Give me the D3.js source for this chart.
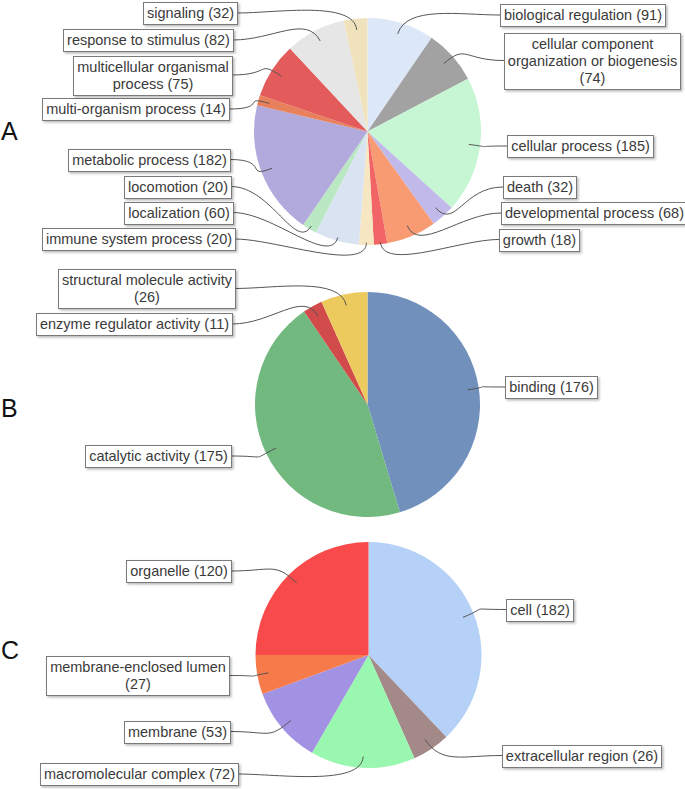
<!DOCTYPE html>
<html><head><meta charset="utf-8">
<script src="https://cdn.jsdelivr.net/npm/d3@7"></script>
<style>body{margin:0;background:#fff}svg{display:block}</style>
</head><body>
<script>
// ---------- DATA ----------
const catsA = ["biological regulation","cellular component organization or biogenesis","cellular process","death","developmental process","growth","immune system process","localization","locomotion","metabolic process","multi-organism process","multicellular organismal process","response to stimulus","signaling"];
const valsA = [91,74,185,32,68,18,20,60,20,182,14,75,82,32];
const catsB = ["binding","catalytic activity","enzyme regulator activity","structural molecule activity"];
const valsB = [176,175,11,26];
const catsC = ["cell","extracellular region","macromolecular complex","membrane","membrane-enclosed lumen","organelle"];
const valsC = [182,26,72,53,27,120];
const panelLetters = ["A","B","C"];

// ---------- STYLES ----------
const colorsA = ["#dce7f7","#a2a2a2","#c6f6d3","#c2b9eb","#f89b73","#f26566","#f6e6c2","#d9e3f1","#b9e8c2","#b2aadd","#e8815b","#e45b5b","#e6e6e6","#f0e2bd"];
const colorsB = ["#7190bc","#72b97f","#d24b4b","#ecca5e"];
const colorsC = ["#b5d1f7","#a38a88","#9af7b0","#a292e3","#f77a4a","#f84a4a"];

// ---------- LAYOUT (label anchors) ----------
const layoutA = [
  {side:"R", x:500, y:15},
  {side:"R", x:504, y:60.5, wrap:180},
  {side:"R", x:507, y:146},
  {side:"R", x:503, y:187},
  {side:"R", x:501, y:213},
  {side:"R", x:499, y:239.5, f:0.98},
  {side:"L", x:235, y:239, f:0.98},
  {side:"L", x:233, y:212.5, f:0.97},
  {side:"L", x:231, y:186.5, f:0.97},
  {side:"L", x:230, y:159.5},
  {side:"L", x:229, y:109},
  {side:"L", x:232, y:75, wrap:166},
  {side:"L", x:233, y:40},
  {side:"L", x:237, y:13}
];
const layoutB = [
  {side:"R", x:505, y:387},
  {side:"L", x:231, y:456},
  {side:"L", x:232, y:324},
  {side:"L", x:235, y:288.5, wrap:184}
];
const layoutC = [
  {side:"R", x:506, y:609.5},
  {side:"R", x:502, y:755.5},
  {side:"L", x:238, y:774},
  {side:"L", x:230, y:731.5},
  {side:"L", x:229, y:675.5, wrap:188},
  {side:"L", x:231, y:571}
];

const panels = [
  {cats:catsA, vals:valsA, colors:colorsA, layout:layoutA, cx:367.5, cy:131.5, r:113.5, letterY:139.5},
  {cats:catsB, vals:valsB, colors:colorsB, layout:layoutB, cx:367.5, cy:404.5, r:112.5, letterY:417},
  {cats:catsC, vals:valsC, colors:colorsC, layout:layoutC, cx:368.5, cy:655, r:113, letterY:658.5}
];

const W = 685, H = 789;
const FONT = "'Liberation Sans', Arial, Helvetica, sans-serif";
const FS = 14.5, LINEH = 17, PADX = 3.5;

const svg = d3.select("body").append("svg").attr("width", W).attr("height", H)
  .style("font-family", FONT);

const defs = svg.append("defs");
const f = defs.append("filter").attr("id","sh").attr("x","-10%").attr("y","-20%").attr("width","130%").attr("height","160%");
f.append("feDropShadow").attr("dx",1.5).attr("dy",1.5).attr("stdDeviation",1)
  .attr("flood-color","#000").attr("flood-opacity",0.28);

// measurement helper
const meas = svg.append("text").attr("font-size", FS).attr("visibility","hidden");
function tw(s){ meas.text(s); return meas.node().getComputedTextLength(); }
function wrapText(s, maxW){
  if(!maxW) return [s];
  const words = s.split(" "); const lines = []; let cur = "";
  words.forEach(w => {
    const t = cur ? cur + " " + w : w;
    if (cur && tw(t) > maxW) { lines.push(cur); cur = w; } else cur = t;
  });
  if (cur) lines.push(cur);
  return lines;
}

const pieGen = d3.pie().sort(null).value(d => d.v);

panels.forEach((p, pi) => {
  const data = p.cats.map((c, i) => ({c, v:p.vals[i], col:p.colors[i], lay:p.layout[i]}));
  const arcs = pieGen(data);
  const arc = d3.arc().innerRadius(0).outerRadius(p.r);
  const g = svg.append("g");

  g.append("g").attr("transform", `translate(${p.cx},${p.cy})`)
    .selectAll("path").data(arcs).join("path")
    .attr("d", arc).attr("fill", d => d.data.col);

  // panel letter
  svg.append("text").attr("x", 1).attr("y", p.letterY)
    .attr("font-size", 25).attr("fill", "#111").text(panelLetters[pi]);

  const lines = g.append("g");
  const labels = g.append("g");

  arcs.forEach(a => {
    const d = a.data, L = d.lay;
    const mid = (a.startAngle + a.endAngle) / 2;
    const fr = L.f || 0.9;
    const sx = Math.sin(mid), sy = -Math.cos(mid);
    const px = p.cx + fr * p.r * sx, py = p.cy + fr * p.r * sy;

    const txt = `${d.c} (${d.v})`;
    const tl = wrapText(txt, L.wrap);
    const maxW = d3.max(tl, t => tw(t));
    const bw = Math.round(maxW + 2*PADX);
    const bh = tl.length * LINEH + 5;
    const bx = L.side === "R" ? L.x : L.x - bw;
    const by = L.y - bh/2;

    const ax = L.x, ay = L.y;
    const h = 40, k = 30;
    const path = d3.path();
    path.moveTo(ax, ay);
    path.bezierCurveTo(ax + (L.side === "R" ? -h : h), ay, px + sx*k, py + sy*k, px, py);
    lines.append("path").attr("d", path.toString())
      .attr("fill","none").attr("stroke","#555").attr("stroke-width",1);

    labels.append("rect").attr("x", Math.round(bx)+0.5).attr("y", Math.round(by)+0.5)
      .attr("width", bw).attr("height", Math.round(bh))
      .attr("fill","#fff").attr("stroke","#7a7a7a").attr("stroke-width",1)
      .attr("filter","url(#sh)");
    const t = labels.append("text").attr("font-size", FS).attr("fill","#3a3a3a")
      .attr("text-anchor","middle");
    tl.forEach((s, i) => {
      t.append("tspan").attr("x", bx + bw/2 + 0.5)
        .attr("y", by + 2.5 + LINEH*i + 13.5).text(s);
    });
  });
});
meas.remove();
</script>
</body></html>
